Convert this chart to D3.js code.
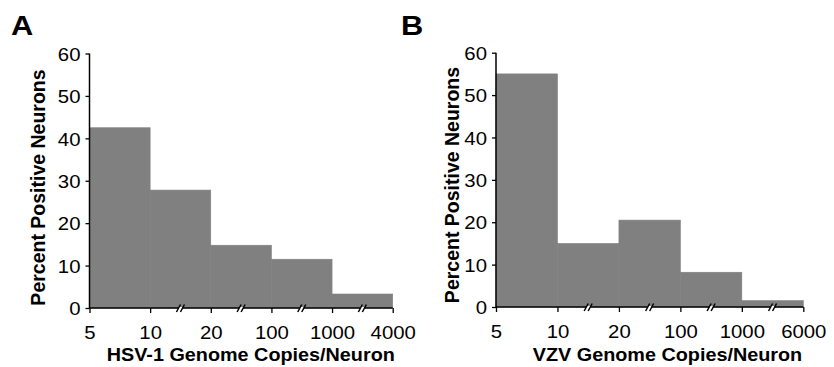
<!DOCTYPE html>
<html>
<head>
<meta charset="utf-8">
<script src="https://cdn.jsdelivr.net/npm/d3@7"></script>
<style>
  html, body { margin: 0; padding: 0; background: #fff; }
  svg { display: block; }
  text { font-family: "Liberation Sans", Arial, Helvetica, sans-serif; fill: #000; }
</style>
</head>
<body>
<svg id="chart" width="834" height="367"></svg>
<script>
// ---- data ----
const yTicks = [0, 10, 20, 30, 40, 50, 60];
const hsvBins = ["5", "10", "20", "100", "1000", "4000"];
const hsvValues = [42.5, 27.8, 14.8, 11.5, 3.3];
const vzvBins = ["5", "10", "20", "100", "1000", "6000"];
const vzvValues = [55, 15, 20.5, 8.2, 1.5];
const panelLetters = ["A", "B"];
const xTitles = ["HSV-1 Genome Copies/Neuron", "VZV Genome Copies/Neuron"];
const yTitle = "Percent Positive Neurons";

const svg = d3.select("#chart");
const SX = 1.1; // horizontal stretch of the original figure's lettering

const panels = [
  { letter: panelLetters[0], bins: hsvBins, values: hsvValues, xTitle: xTitles[0],
    x0: 89.5, x1: 392.7, yTop: 53.5, yBot: 308, letterX: 11, yLabX: 45, yLabY: 187.5, xTitleX: 250.8 },
  { letter: panelLetters[1], bins: vzvBins, values: vzvValues, xTitle: xTitles[1],
    x0: 496, x1: 803.3, yTop: 52.7, yBot: 307, letterX: 401, yLabX: 458.7, yLabY: 185, xTitleX: 667.5 }
];

panels.forEach(p => {
  const g = svg.append("g");
  const x = d3.scalePoint().domain(p.bins).range([p.x0, p.x1]);
  const y = d3.scaleLinear().domain([0, 60]).range([p.yBot, p.yTop]);

  // bars (histogram bins between consecutive tick labels)
  g.selectAll("rect.bar").data(p.values).join("rect")
    .attr("class", "bar")
    .attr("x", (d, i) => x(p.bins[i]))
    .attr("width", (d, i) => x(p.bins[i + 1]) - x(p.bins[i]))
    .attr("y", d => y(d))
    .attr("height", d => y(0) - y(d))
    .attr("fill", "#808080")
    .attr("stroke", "#808080").attr("stroke-width", 0.6);

  // y axis
  const yAx = g.append("g").attr("transform", `translate(${p.x0},0)`)
    .call(d3.axisLeft(y).tickValues(yTicks).tickSize(4).tickFormat(""));
  yAx.select(".domain").attr("stroke", "#000").attr("stroke-width", 1.5)
    .attr("d", `M0,${y(60)}V${y(0)}`);
  yAx.selectAll(".tick line").attr("stroke", "#000").attr("stroke-width", 1.3);
  yAx.selectAll(".tick").append("text")
    .attr("transform", "translate(-9,0) scale(" + SX + ",1)")
    .attr("text-anchor", "end").attr("dy", "0.36em")
    .style("font-size", "18.5px").text(d => d);

  // x axis
  const xAx = g.append("g").attr("transform", `translate(0,${p.yBot})`)
    .call(d3.axisBottom(x).tickSize(5).tickFormat(""));
  xAx.select(".domain").attr("stroke", "#000").attr("stroke-width", 1.5)
    .attr("d", `M${p.x0},0H${p.x1}`);
  xAx.selectAll(".tick line").attr("stroke", "#000").attr("stroke-width", 1.3);
  xAx.selectAll(".tick").append("text")
    .attr("transform", "translate(0,30.5) scale(" + SX + ",1)")
    .attr("text-anchor", "middle")
    .style("font-size", "18.5px").text(d => d);

  // axis break marks between ticks
  const mids = p.bins.slice(1, -1).map((b, i) => (x(b) + x(p.bins[i + 2])) / 2);
  const br = g.selectAll("g.brk").data(mids).join("g")
    .attr("class", "brk")
    .attr("transform", d => `translate(${d},${p.yBot})`);
  br.append("rect").attr("x", -2).attr("y", -1).attr("width", 4).attr("height", 2).attr("fill", "#fff");
  [-2, 2].forEach(o => {
    br.append("line")
      .attr("x1", o - 2).attr("y1", 4).attr("x2", o + 2).attr("y2", -3.5)
      .attr("stroke", "#000").attr("stroke-width", 1.5);
  });

  // axis titles
  g.append("text")
    .attr("transform", `translate(${p.xTitleX},361) scale(${SX},1)`)
    .attr("text-anchor", "middle")
    .style("font-size", "18px").style("font-weight", "bold")
    .text(p.xTitle);
  g.append("text")
    .attr("transform", `translate(${p.yLabX},${p.yLabY}) rotate(-90)`)
    .attr("text-anchor", "middle")
    .style("font-size", "19.5px").style("font-weight", "bold")
    .text(yTitle);

  // panel letter
  g.append("text")
    .attr("transform", `translate(${p.letterX},35) scale(${SX},1)`)
    .style("font-size", "28px").style("font-weight", "bold")
    .text(p.letter);
});
</script>
</body>
</html>
